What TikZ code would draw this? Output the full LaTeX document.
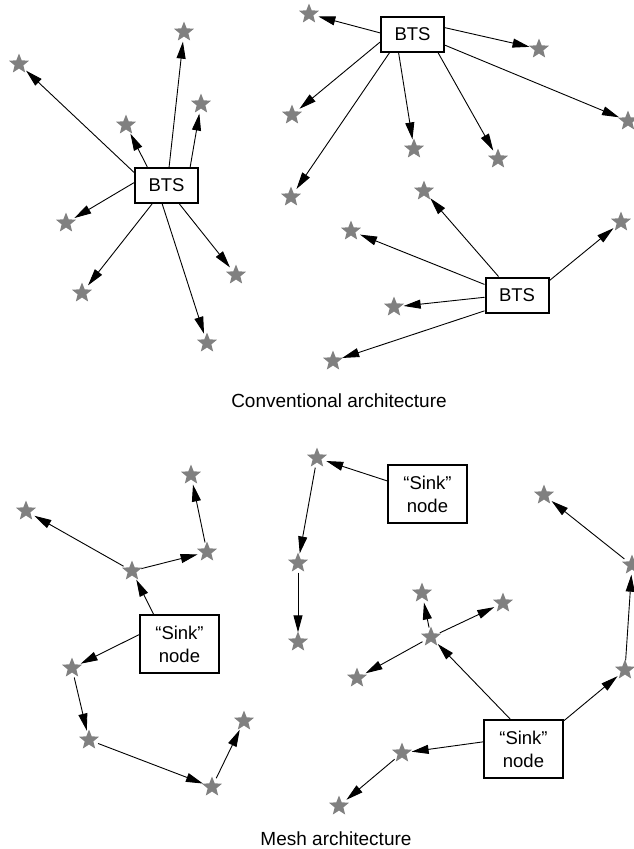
\documentclass[tikz,border=0pt]{standalone}
\usepackage{fontspec}
\setmainfont{Liberation Sans}
\usetikzlibrary{arrows.meta,shapes.geometric}
\definecolor{motegray}{RGB}{128,128,128}

\begin{document}
\begin{tikzpicture}[x=1pt, y=-1pt,
      starmark/.style={star, star points=5, star point ratio=2.3,
                       fill=motegray, inner sep=0pt, minimum size=21pt},
      mote/.style={circle, inner sep=0pt, minimum size=19pt,
                   label={[starmark]center:{}}},
      station/.style={draw, line width=2pt, inner sep=0pt,
                      minimum width=63pt, minimum height=35pt,
                      font=\fontsize{18.5}{23}\selectfont},
      sinkbox/.style={station, align=center,
                      minimum width=79pt, minimum height=58pt},
      link/.style={-{Triangle[length=17pt,width=9pt]}, line width=0.9pt},
      archlabel/.style={font=\fontsize{19}{23}\selectfont, anchor=base}]
  \useasboundingbox (0,0) rectangle (633,849);

  % conventional architecture: three base stations
  \node[station] (bts1) at (166.5,185.5) {BTS};
  \node[station] (bts2) at (412.5,34) {BTS};
  \node[station] (bts3) at (517,295) {BTS};
  \foreach \n/\x/\y in {t1/19/64, t2/184/32, t3/126/125, t4/201/104,
                        t5/66/223, t6/82/293, t7/236/275, t8/207/343,
                        u1/309/14, u2/539/49, u3/292/115, u4/291/197,
                        u5/414/149, u6/498/159, u7/628/121,
                        v1/424/191, v2/351/231, v3/394/307, v4/333/361,
                        v5/621/222}
    \node[mote] (\n) at (\x,\y) {};
  \foreach \n/\a in {t1/158, t2/82, t3/136, t4/38, t5/175, t6/232, t7/305, t8/257}
    \draw[link] (bts1.\a) -- (\n);
  \foreach \n/\a in {u1/178, u2/11, u3/194, u4/219, u5/233, u6/324, u7/341}
    \draw[link] (bts2.\a) -- (\n);
  \foreach \n/\a in {v1/135, v2/162, v3/184, v4/206, v5/24}
    \draw[link] (bts3.\a) -- (\n);
  \node[archlabel] (convtitle) at (339,407) {Conventional architecture};

  % mesh architecture: sinks and multi-hop paths
  \node[sinkbox] (sink1) at (179.5,644) {“Sink”\\node};
  \node[sinkbox] (sink2) at (427.5,494) {“Sink”\\node};
  \node[sinkbox] (sink3) at (523.5,749) {“Sink”\\node};
  \foreach \n/\x/\y in {ma/132/571, mb/26/511, mc/207/552, md/191/475,
                        me/72/668, mf/89/740, mg/212/787, mh/244/721,
                        mi/317/458, mj/298/563, mk/298/642,
                        ml/431/637, mm/422/593, mn/503/603, mo/357/678,
                        mp/402/753, mq/339/806, mr/625/670, ms/632/565,
                        mt/544/495}
    \node[mote] (\n) at (\x,\y) {};
  \draw[link] (sink1.131) -- (ma);
  \draw[link] (sink1.167) -- (me);
  \draw[link] (sink2.162) -- (mi);
  \draw[link] (sink3.114) -- (ml);
  \draw[link] (sink3.170) -- (mp);
  \draw[link] (sink3.35) -- (mr);
  \foreach \a/\b in {ma/mb, ma/mc, mc/md, me/mf, mf/mg, mg/mh,
                     mi/mj, mj/mk, ml/mm, ml/mn, ml/mo, mp/mq,
                     mr/ms, ms/mt}
    \draw[link] (\a) -- (\b);
  \node[archlabel] (meshtitle) at (336,845) {Mesh architecture};
\end{tikzpicture}
\end{document}
